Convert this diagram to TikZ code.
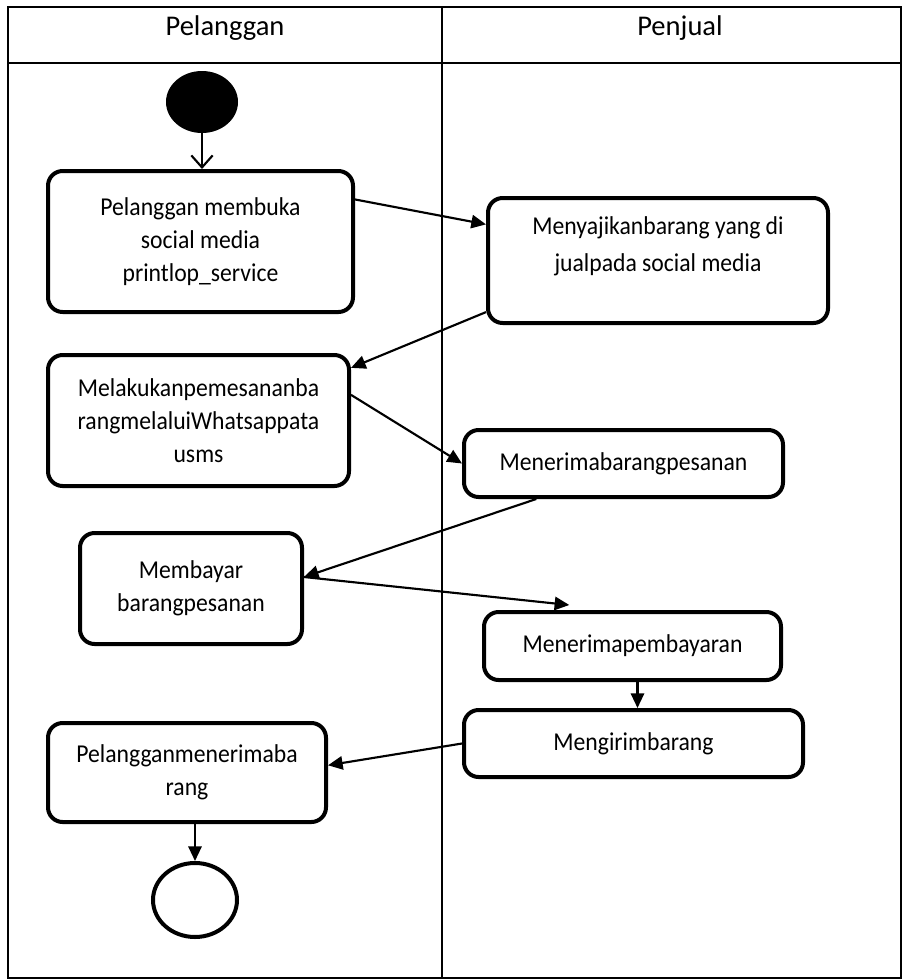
\documentclass[tikz,border=0pt]{standalone}
\usepackage{fontspec}
\setmainfont{Carlito}
\newfontfamily\bodyfont{Carlito}[FakeStretch=0.92]
\usetikzlibrary{arrows.meta,calc,shapes.geometric}
\begin{document}
\begin{tikzpicture}[x=0.75pt,y=-0.75pt,
  box/.style={draw, line width=3pt, rounded corners=11pt, align=center,
    font=\bodyfont\fontsize{19.3pt}{24.75pt}\selectfont, inner sep=0pt},
  boxtext/.style={align=center, font=\bodyfont\fontsize{19.3pt}{27.75pt}\selectfont, inner sep=0pt},
  lane/.style={font=\fontsize{21.4pt}{26pt}\selectfont, anchor=base, inner sep=0pt},
  arr/.style={line width=1.6pt, -{Triangle[length=11pt,width=10pt]}},
  openarr/.style={line width=1.6pt, -{Straight Barb[length=9pt,width=16pt,line width=1.6pt]}},
  tableline/.style={line width=1.5pt}
]
\useasboundingbox (0,0) rectangle (902,979);
% swimlane table
\draw[tableline] (8,7) rectangle (901,978);
\draw[tableline] (8,63) -- (901,63);
\draw[tableline] (442,7) -- (442,978);
\node[lane] (h1) at (225,35) {Pelanggan};
\node[lane] (h2) at (680,35) {Penjual};

% start / end
\node[ellipse, fill=black, minimum width=54pt, minimum height=46.5pt, inner sep=0pt] (start) at (202,102) {};
\node[ellipse, draw, line width=3pt, minimum width=63pt, minimum height=55.5pt, inner sep=0pt] (end) at (195,900) {};

% activities
\node[box, minimum width=228.75pt, minimum height=105.75pt] (b1) at (200.5,241.5)
  {Pelanggan membuka\\social media\\printlop\_service};
\node[box, minimum width=255pt, minimum height=93.75pt] (b2) at (658,260.5) {};
\node[boxtext] (t2) at (658,246.5) {Menyajikanbarang yang di\\jualpada social media};
\node[box, minimum width=225.75pt, minimum height=98.25pt] (b3) at (198.5,420.5)
  {Melakukanpemesananba\\rangmelaluiWhatsappata\\usms};
\node[box, minimum width=239.25pt, minimum height=50.25pt] (b4) at (623.5,463.5)
  {Menerimabarangpesanan};
\node[box, minimum width=166.5pt, minimum height=83.25pt] (b5) at (191,588.5)
  {Membayar\\barangpesanan};
\node[box, minimum width=222.75pt, minimum height=51pt] (b6) at (632.5,646)
  {Menerimapembayaran};
\node[box, minimum width=254.25pt, minimum height=50.25pt] (b7) at (633.5,743.5)
  {Mengirimbarang};
\node[box, minimum width=208.5pt, minimum height=74.25pt] (b8) at (187,772.5)
  {Pelangganmenerimaba\\rang};

% connectors
\draw[openarr] (start.south) -- (start.south |- b1.north);
\draw[arr] ($(b1.north east)!0.21!(b1.south east)$) -- ($(b2.north west)!0.22!(b2.south west)$);
\draw[arr] ($(b2.north west)!0.9!(b2.south west)$) -- ($(b3.north east)!0.11!(b3.south east)$);
\draw[arr] ($(b3.north east)!0.31!(b3.south east)$) -- (b4.west);
\draw[arr] ($(b4.south west)!0.23!(b4.south east)$) -- ($(b5.north east)!0.4!(b5.south east)$);
\draw[arr] ($(b5.north east)!0.4!(b5.south east)$) -- ($(b6.north west)!0.29!(b6.north east)+(0,-5)$);
\draw[arr] ($(b6.south)+(5,0)$) -- ($(b7.north)+(4,0)$);
\draw[arr] (b7.west) -- ($(b8.north east)!0.43!(b8.south east)$);
\draw[arr] ($(b8.south)+(8,0)$) -- (end.north);
\end{tikzpicture}
\end{document}
